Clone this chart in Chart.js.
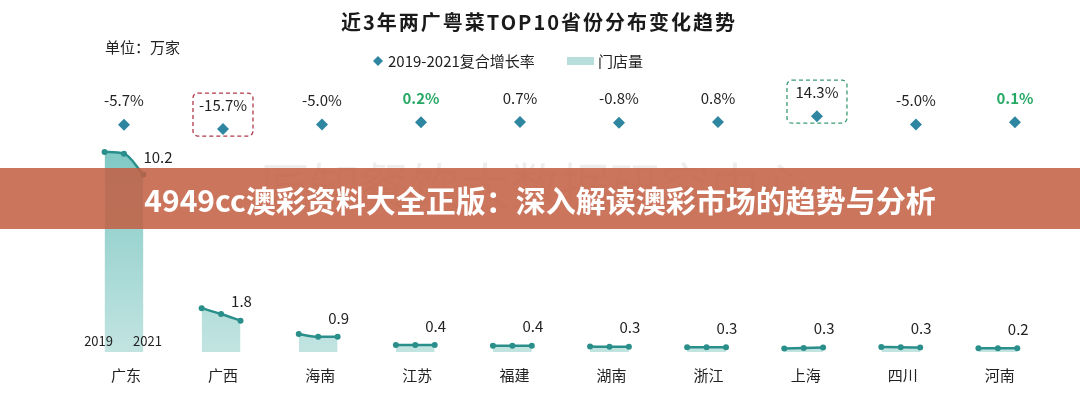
<!DOCTYPE html>
<html>
<head>
<meta charset="utf-8">
<script src="https://cdn.jsdelivr.net/npm/chart.js@4"></script>
<style>
  body { margin: 0; background: #fff; }
  #wrap { position: relative; width: 1080px; height: 396px; }
  #banner {
    position: absolute; left: 0; top: 168px; width: 1080px; height: 61px;
    background: rgba(196, 94, 66, 0.86); color: #fff;
    font: bold 30px "Noto Sans CJK SC", sans-serif;
    display: flex; align-items: center; justify-content: center;
  }
</style>
</head>
<body>
<div id="wrap">
  <canvas id="chart"></canvas>
  <div id="banner">4949cc澳彩资料大全正版：深入解读澳彩市场的趋势与分析</div>
</div>
<script>
// data (万家)
const provinces = ['广东', '广西', '海南', '江苏', '福建', '湖南', '浙江', '上海', '四川', '河南'];
const years = ['2019', '2020', '2021'];
const stores2019 = [11.5, 2.52, 1.03, 0.4, 0.36, 0.31, 0.27, 0.2, 0.29, 0.22];
const stores2020 = [11.4, 2.18, 0.87, 0.4, 0.36, 0.3, 0.27, 0.23, 0.27, 0.22];
const stores2021 = [10.2, 1.8, 0.87, 0.4, 0.36, 0.3, 0.27, 0.26, 0.26, 0.22];
const growthRate = [-5.7, -15.7, -5.0, 0.2, 0.7, -0.8, 0.8, 14.3, -5.0, 0.1];
const greenLabels = ['江苏', '河南'];

const FONT = '"Noto Sans CJK SC", "Noto Sans", sans-serif';
const LINE = '#2a8f8b';
const DIAMOND = '#2e86a0';

// gradient for the store areas, darker at the top
function areaFill(context) {
  const chart = context.chart;
  if (!chart.chartArea) return '#bde1de';
  const y = chart.scales.y;
  const g = chart.ctx.createLinearGradient(0, y.getPixelForValue(11.5), 0, y.getPixelForValue(0));
  g.addColorStop(0, '#80c9c5');
  g.addColorStop(1, '#c2e4e1');
  return g;
}

const storeSets = provinces.map((p, i) => ({
  label: p,
  data: [stores2019[i], stores2020[i], stores2021[i]].map((v, k) => ({ x: i + (k - 1) * 0.2, y: v })),
  xAxisID: 'x',
  yAxisID: 'y',
  borderColor: LINE,
  backgroundColor: areaFill,
  fill: 'origin',
  borderWidth: 2.5,
  pointRadius: 3,
  pointBackgroundColor: LINE,
  pointBorderWidth: 0,
  cubicInterpolationMode: 'monotone'
}));

const growthSet = {
  label: '2019-2021复合增长率',
  data: growthRate.map((g, i) => ({ x: i, y: g })),
  xAxisID: 'xg',
  yAxisID: 'yg',
  showLine: false,
  pointStyle: 'rectRot',
  pointRadius: 6,
  pointBackgroundColor: DIAMOND,
  pointBorderWidth: 0
};

function roundRect(ctx, x, y, w, h, r) {
  ctx.beginPath();
  ctx.moveTo(x + r, y);
  ctx.arcTo(x + w, y, x + w, y + h, r);
  ctx.arcTo(x + w, y + h, x, y + h, r);
  ctx.arcTo(x, y + h, x, y, r);
  ctx.arcTo(x, y, x + w, y, r);
  ctx.closePath();
}

const textPlugin = {
  id: 'texts',
  beforeDatasetsDraw(chart) {
    const ctx = chart.ctx;
    ctx.save();
    ctx.font = '50px ' + FONT;
    ctx.fillStyle = 'rgba(90, 90, 90, 0.10)';
    ctx.textAlign = 'center';
    ctx.textBaseline = 'middle';
    ctx.fillText('匠知餐饮大数据研究中心', 535, 186);
    ctx.restore();
  },
  afterDatasetsDraw(chart) {
    const ctx = chart.ctx;
    const x = chart.scales.x, y = chart.scales.y;
    const xg = chart.scales.xg, yg = chart.scales.yg;
    ctx.save();

    // title
    ctx.fillStyle = '#1a1a1a';
    ctx.font = 'bold 20px ' + FONT;
    ctx.letterSpacing = '2px';
    ctx.textAlign = 'center';
    ctx.textBaseline = 'middle';
    ctx.fillText('近3年两广粤菜TOP10省份分布变化趋势', 539, 22);
    ctx.letterSpacing = '0px';

    // unit
    ctx.font = '15px ' + FONT;
    ctx.textAlign = 'left';
    ctx.fillStyle = '#222';
    ctx.fillText('单位：万家', 105, 47);

    // legend
    ctx.fillStyle = DIAMOND;
    ctx.beginPath();
    ctx.moveTo(378, 56); ctx.lineTo(383, 61); ctx.lineTo(378, 66); ctx.lineTo(373, 61);
    ctx.closePath(); ctx.fill();
    ctx.fillStyle = '#222';
    ctx.fillText('2019-2021复合增长率', 388, 61);
    ctx.fillStyle = '#b7dedb';
    ctx.fillRect(567, 57, 27, 8);
    ctx.fillStyle = '#222';
    ctx.fillText('门店量', 598, 61);

    // growth labels + dashed boxes
    const lo = growthRate.indexOf(Math.min(...growthRate));
    const hi = growthRate.indexOf(Math.max(...growthRate));
    ctx.textAlign = 'center';
    growthRate.forEach((g, i) => {
      const gx = xg.getPixelForValue(i);
      const gy = yg.getPixelForValue(g);
      const green = greenLabels.includes(provinces[i]);
      ctx.font = (green ? 'bold ' : '') + '15px ' + FONT;
      ctx.fillStyle = green ? '#27a865' : '#222';
      ctx.fillText(g.toFixed(1) + '%', gx, gy - 24);
      if (i === lo || i === hi) {
        ctx.strokeStyle = i === lo ? '#b23a4a' : '#3a9c72';
        ctx.lineWidth = 1.3;
        ctx.setLineDash([4, 3]);
        roundRect(ctx, gx - 30, gy - 36, 60, 43, 5);
        ctx.stroke();
        ctx.setLineDash([]);
      }
    });

    // 2021 value labels
    ctx.font = '15px ' + FONT;
    ctx.fillStyle = '#222';
    stores2021.forEach((v, i) => {
      const px = x.getPixelForValue(i + 0.2);
      const py = y.getPixelForValue(v);
      if (i === 0) {
        ctx.textAlign = 'left';
        ctx.fillText(v.toFixed(1), px, py - 17);
      } else {
        ctx.textAlign = 'center';
        ctx.fillText(v.toFixed(1), px + 1, py - 19);
      }
    });

    // year marks under the first area
    ctx.font = '13px ' + FONT;
    ctx.textAlign = 'center';
    const base = y.getPixelForValue(0);
    ctx.fillText(years[0], x.getPixelForValue(-0.2) - 6, base - 11);
    ctx.fillText(years[2], x.getPixelForValue(0.2) + 4, base - 11);

    // category labels
    ctx.font = '15px ' + FONT;
    provinces.forEach((p, i) => {
      ctx.fillText(p, x.getPixelForValue(i) + 2, base + 23);
    });
    ctx.restore();
  }
};

new Chart(document.getElementById('chart'), {
  type: 'line',
  data: { datasets: [...storeSets, growthSet] },
  options: {
    responsive: true,
    maintainAspectRatio: false,
    animation: false,
    layout: { padding: 0, autoPadding: false },
    plugins: { legend: { display: false }, tooltip: { enabled: false } },
    scales: {
      x: { type: 'linear', min: -1.277, max: 9.846, display: false },
      xg: { type: 'linear', min: -1.2525, max: 9.657, display: false },
      y: { min: -2.53, max: 20.23, display: false },
      yg: { min: -636.5, max: 284.4, display: false }
    }
  },
  plugins: [textPlugin]
});
</script>
</body>
</html>
